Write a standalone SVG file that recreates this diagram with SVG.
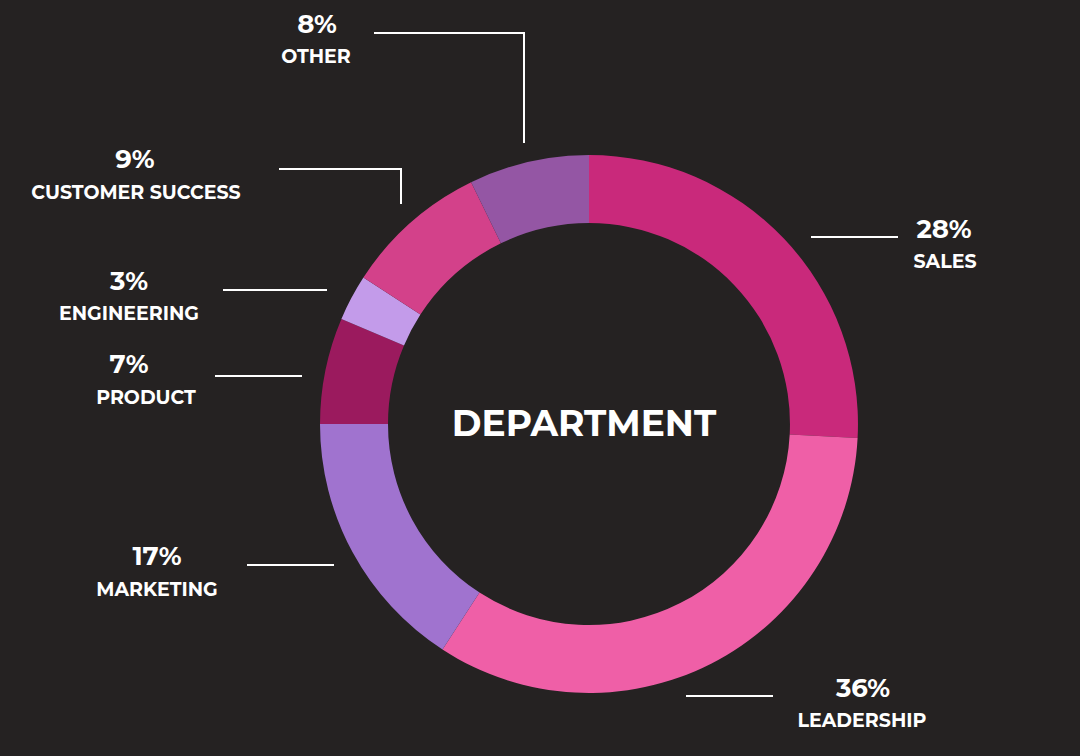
<svg xmlns="http://www.w3.org/2000/svg" width="1080" height="756" viewBox="0 0 1080 756">
<style>
.p{font-family:Montserrat,"Open Sans","Liberation Sans",sans-serif;font-weight:bold;font-size:26px;fill:#fff;text-anchor:middle}
.l{font-family:Montserrat,"Open Sans","Liberation Sans",sans-serif;font-weight:bold;font-size:19px;fill:#fff;text-anchor:middle}
.c{fill:none;stroke:#fff;stroke-width:2}
</style>
<rect width="1080" height="756" fill="#252222"/>
<g id="sales"><path d="M589,155 A269,269 0 0 1 857.6,438.1 L789.7,434.5 A201,201 0 0 0 589,223 Z" fill="#C9297B"/><text class="p" x="944" y="238">28%</text><text class="l" x="945" y="268">SALES</text></g>
<g id="leadership"><path d="M857.6,438.1 A269,269 0 0 1 442.5,649.6 L479.5,592.6 A201,201 0 0 0 789.7,434.5 Z" fill="#EF5FA7"/><text class="p" x="863" y="697">36%</text><text class="l" x="862" y="727">LEADERSHIP</text></g>
<g id="marketing"><path d="M442.5,649.6 A269,269 0 0 1 320,424 L388,424 A201,201 0 0 0 479.5,592.6 Z" fill="#A073CF"/><text class="p" x="157" y="565">17%</text><text class="l" x="157" y="596">MARKETING</text></g>
<g id="product"><path d="M320,424 A269,269 0 0 1 341.4,318.9 L404,345.5 A201,201 0 0 0 388,424 Z" fill="#9B1A5E"/><text class="p" x="129" y="373">7%</text><text class="l" x="146" y="404">PRODUCT</text></g>
<g id="engineering"><path d="M341.4,318.9 A269,269 0 0 1 363.4,277.5 L420.4,314.5 A201,201 0 0 0 404,345.5 Z" fill="#C39BEA"/><text class="p" x="129" y="290">3%</text><text class="l" x="129" y="320">ENGINEERING</text></g>
<g id="customer-success"><path d="M363.4,277.5 A269,269 0 0 1 471.1,182.2 L500.9,243.3 A201,201 0 0 0 420.4,314.5 Z" fill="#D3418A"/><text class="p" x="135" y="168">9%</text><text class="l" x="136" y="199">CUSTOMER SUCCESS</text></g>
<g id="other"><path d="M471.1,182.2 A269,269 0 0 1 589,155 L589,223 A201,201 0 0 0 500.9,243.3 Z" fill="#9456A4"/><text class="p" x="317" y="33">8%</text><text class="l" x="316" y="63">OTHER</text></g>
<g id="center"><text class="p" x="584" y="436" style="font-size:36px">DEPARTMENT</text></g>
<g id="connectors">
<polyline class="c" points="374,33 524,33 524,143"/>
<polyline class="c" points="279,169 401,169 401,204"/>
<line class="c" x1="223" y1="290" x2="327" y2="290"/>
<line class="c" x1="215" y1="376" x2="302" y2="376"/>
<line class="c" x1="247" y1="565" x2="334" y2="565"/>
<line class="c" x1="811" y1="237" x2="898" y2="237"/>
<line class="c" x1="686" y1="696" x2="773" y2="696"/>
</g>
</svg>
